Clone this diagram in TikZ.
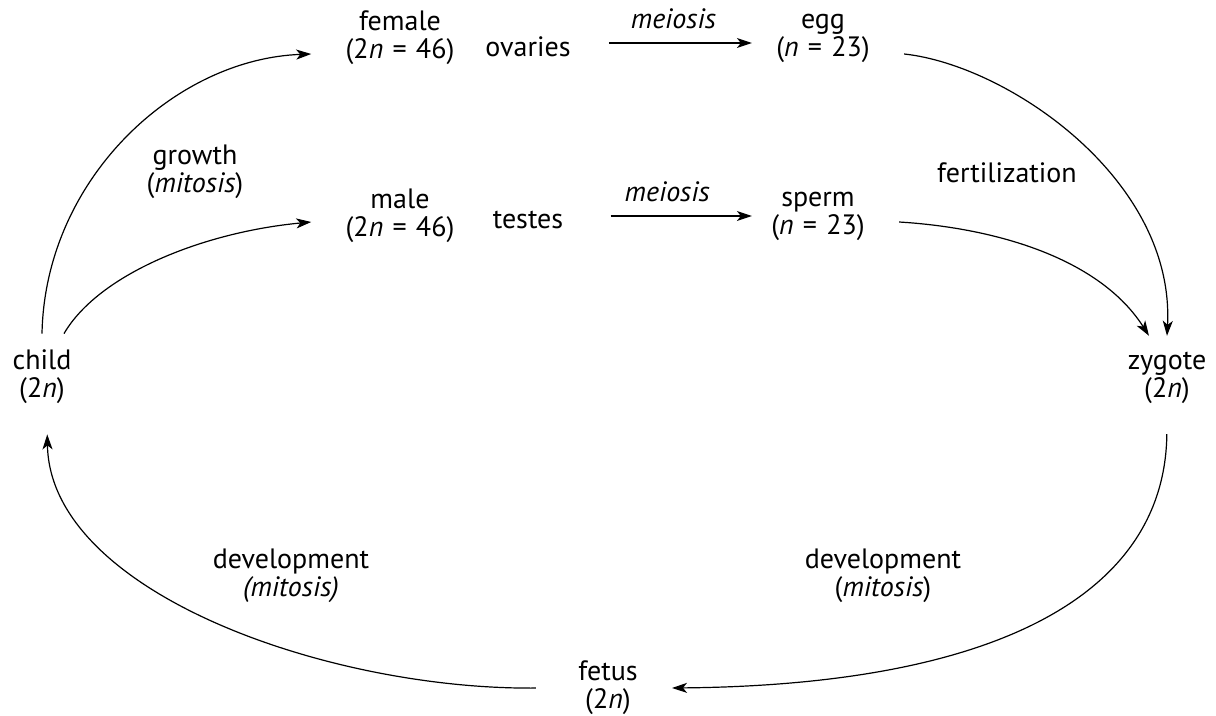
\documentclass[tikz,border=0pt]{standalone}
\usepackage{fontspec}
\setmainfont{PT Sans}
\usetikzlibrary{arrows.meta}
\newcommand{\eqgap}{\hspace{0.33em}}
\begin{document}
\begin{tikzpicture}[
    x=0.5pt,
    y=-0.5pt,
    font=\fontsize{14}{14}\selectfont,
    stage/.style={
        align=center,
        inner xsep=17pt,
        inner ysep=8pt
    },
    lbl/.style={
        align=center,
        inner sep=1pt
    },
    arr/.style={
        line width=0.6pt,
        -{Stealth[length=7.5pt,width=5pt,inset=2pt]}
    }
]

% Frame
\useasboundingbox (0, 0) rectangle (1216, 716);

% Adults and gametes
\node[stage] (female) at (400, 38) {female\\(2\textit{n}\eqgap=\eqgap46)};
\node[stage] (ovaries) at (528, 47) {ovaries};
\node[stage] (egg) at (823, 38) {egg\\(\textit{n}\eqgap=\eqgap23)};

\node[stage] (male) at (400, 216) {male\\(2\textit{n}\eqgap=\eqgap46)};
\node[stage] (testes) at (528, 220) {testes};
\node[stage] (sperm) at (818, 216) {sperm\\(\textit{n}\eqgap=\eqgap23)};

% Diploid stages
\node[stage] (child) at (42, 377) {child\\(2\textit{n})};
\node[stage] (zygote) at (1167, 378) {zygote\\(2\textit{n})};
\node[stage] (fetus) at (608, 688) {fetus\\(2\textit{n})};

% Process labels
\node[lbl] (growth) at (195, 172) {growth\\(\textit{mitosis})};
\node[lbl] (fertil) at (1007, 173) {fertilization};
\node[lbl] (devleft) at (291, 576) {development\\\textit{(mitosis)}};
\node[lbl] (devright) at (883, 576) {development\\(\textit{mitosis})};

% Meiosis
\draw[arr, shorten <=2pt, shorten >=-5pt] ([yshift=2pt]ovaries.east) -- ([yshift=2pt]ovaries.east -| egg.west)
    node[lbl, midway, above=6pt] {\textit{meiosis}};
\draw[arr, shorten <=6.5pt, shorten >=-7.5pt] ([yshift=2pt]testes.east) -- ([yshift=2pt]testes.east -| sperm.west)
    node[lbl, midway, above=6pt] {\textit{meiosis}};

% Growth
\draw[arr] (child.north) .. controls +(3,-154) and +(-137,5) .. ([yshift=-8pt]female.west);
\draw[arr] ([xshift=11pt]child.north) .. controls +(35,-60) and +(-107,10) .. ([yshift=-3pt]male.west);

% Fertilization
\draw[arr] ([yshift=-8pt]egg.east) .. controls +(103,11) and +(8,-157) .. (zygote.north);
\draw[arr] ([yshift=-3pt]sperm.east) .. controls +(98,6) and +(-49,-77) .. ([xshift=-9pt]zygote.north);

% Development
\draw[arr, shorten <=7pt] (zygote.south) .. controls +(-2,172) and +(329,-3) .. (fetus.east);
\draw[arr, shorten <=4pt, shorten >=7pt] (fetus.west) .. controls +(-216,2) and +(3,172) .. ([xshift=2.5pt]child.south);

\end{tikzpicture}
\end{document}
